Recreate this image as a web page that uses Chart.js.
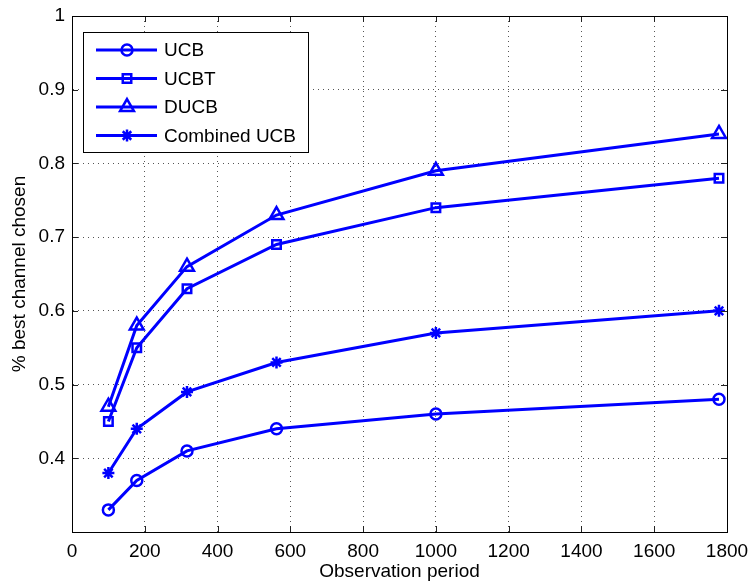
<!DOCTYPE html>
<html>
<head>
<meta charset="utf-8">
<script src="https://cdn.jsdelivr.net/npm/chart.js@4/dist/chart.umd.min.js"></script>
<style>
  html, body { margin: 0; padding: 0; background: #fff; }
  canvas { display: block; }
</style>
</head>
<body>
<canvas id="chart" width="749" height="584"></canvas>
<script>
// observation periods are log-spaced (10^2 .. 10^3.25)
const obsPeriod = [100, 178, 316, 562, 1000, 1778]
const ucb = [0.33, 0.37, 0.41, 0.44, 0.46, 0.48]
const ucbt = [0.45, 0.55, 0.63, 0.69, 0.74, 0.78]
const ducb = [0.47, 0.58, 0.66, 0.73, 0.79, 0.84]
const combinedUcb = [0.38, 0.44, 0.49, 0.53, 0.57, 0.60]

const seriesNames = ['UCB', 'UCBT', 'DUCB', 'Combined UCB']
const seriesValues = [ucb, ucbt, ducb, combinedUcb]
const markers = ['circle', 'rect', 'triangle', 'star']
const markerRadius = [5.5, 6, 8, 6]

const BLUE = '#0000ff'
const FONT = { family: '"Liberation Sans", Arial, Helvetica, sans-serif', size: 19 }

const datasets = seriesNames.map((label, i) => ({
  label,
  data: obsPeriod.map((x, j) => ({ x, y: seriesValues[i][j] })),
  showLine: true,
  borderColor: BLUE,
  borderWidth: 3,
  pointStyle: markers[i],
  pointRadius: markerRadius[i],
  pointBorderWidth: 2.5,
  pointBorderColor: BLUE,
  pointBackgroundColor: 'rgba(0,0,0,0)',
  clip: false,
}))

// MATLAB-ish frame: full box plus inward tick marks on all four sides
const framePlugin = {
  id: 'frame',
  afterDatasetsDraw(chart) {
    const { ctx, chartArea: a, scales } = chart
    ctx.save()
    ctx.strokeStyle = '#222'
    ctx.lineWidth = 1
    ctx.beginPath()
    for (const t of scales.x.ticks) {
      const px = Math.round(scales.x.getPixelForValue(t.value)) + 0.5
      ctx.moveTo(px, a.bottom); ctx.lineTo(px, a.bottom - 6)
      ctx.moveTo(px, a.top); ctx.lineTo(px, a.top + 6)
    }
    for (const t of scales.y.ticks) {
      const py = Math.round(scales.y.getPixelForValue(t.value)) + 0.5
      ctx.moveTo(a.left, py); ctx.lineTo(a.left + 6, py)
      ctx.moveTo(a.right, py); ctx.lineTo(a.right - 6, py)
    }
    ctx.stroke()
    ctx.strokeStyle = '#000'
    ctx.strokeRect(Math.round(a.left) + 0.5, Math.round(a.top) + 0.5,
      Math.round(a.right - a.left), Math.round(a.bottom - a.top))
    ctx.restore()
  },
  afterDraw(chart) {
    // legend box in the upper left of the plot, line + marker samples
    const { ctx, chartArea: a } = chart
    const box = { x: a.left + 11, y: a.top + 16, w: 225, h: 120 }
    ctx.save()
    ctx.fillStyle = '#fff'
    ctx.fillRect(box.x, box.y, box.w, box.h)
    ctx.strokeStyle = '#000'
    ctx.lineWidth = 1
    ctx.strokeRect(box.x + 0.5, box.y + 0.5, box.w, box.h)
    ctx.font = `${FONT.size}px ${FONT.family}`
    ctx.textBaseline = 'middle'
    chart.data.datasets.forEach((ds, i) => {
      const y = box.y + 18 + i * 28.5
      ctx.strokeStyle = BLUE
      ctx.lineWidth = 3
      ctx.beginPath()
      ctx.moveTo(box.x + 13, y)
      ctx.lineTo(box.x + 74, y)
      ctx.stroke()
      ctx.fillStyle = 'rgba(0,0,0,0)'
      ctx.lineWidth = ds.pointBorderWidth
      Chart.helpers.drawPoint(ctx, {
        pointStyle: ds.pointStyle, radius: ds.pointRadius, rotation: 0,
        borderWidth: ds.pointBorderWidth,
      }, box.x + 44, y)
      ctx.fillStyle = '#000'
      ctx.fillText(ds.label, box.x + 81, y + 1)
    })
    ctx.restore()
  },
}

new Chart(document.getElementById('chart'), {
  type: 'scatter',
  data: { datasets },
  options: {
    responsive: false,
    animation: false,
    layout: { padding: { top: 16, right: 22, left: 0, bottom: 0 } },
    plugins: { legend: { display: false }, tooltip: { enabled: false } },
    scales: {
      x: {
        type: 'linear',
        min: 0,
        max: 1800,
        ticks: { stepSize: 200, color: '#000', font: FONT, padding: 8, maxRotation: 0, callback: v => String(v) },
        grid: { color: '#555', lineWidth: 1, drawTicks: false },
        border: { display: true, color: '#000', dash: [1, 4] },
        title: { display: true, text: 'Observation period', color: '#000', font: { ...FONT, lineHeight: 1.2 }, padding: { top: 0, bottom: 1 } },
        afterFit: s => { s.height = 52; s.paddingLeft = 0; s.paddingRight = 0 },
      },
      y: {
        min: 0.3,
        max: 1,
        ticks: {
          stepSize: 0.1, color: '#000', font: FONT, padding: 7,
          callback: v => v < 0.35 ? '' : (Math.abs(v - 1) < 1e-9 ? '1' : v.toFixed(1)),
        },
        grid: { color: '#555', lineWidth: 1, drawTicks: false },
        border: { display: true, color: '#000', dash: [1, 4] },
        title: { display: true, text: '% best channel chosen', color: '#000', font: { ...FONT, lineHeight: 1.2 }, padding: { top: 8, bottom: 0 } },
        afterFit: s => { s.width = 72; s.paddingTop = 0; s.paddingBottom = 0 },
      },
    },
  },
  plugins: [framePlugin],
})
</script>
</body>
</html>
